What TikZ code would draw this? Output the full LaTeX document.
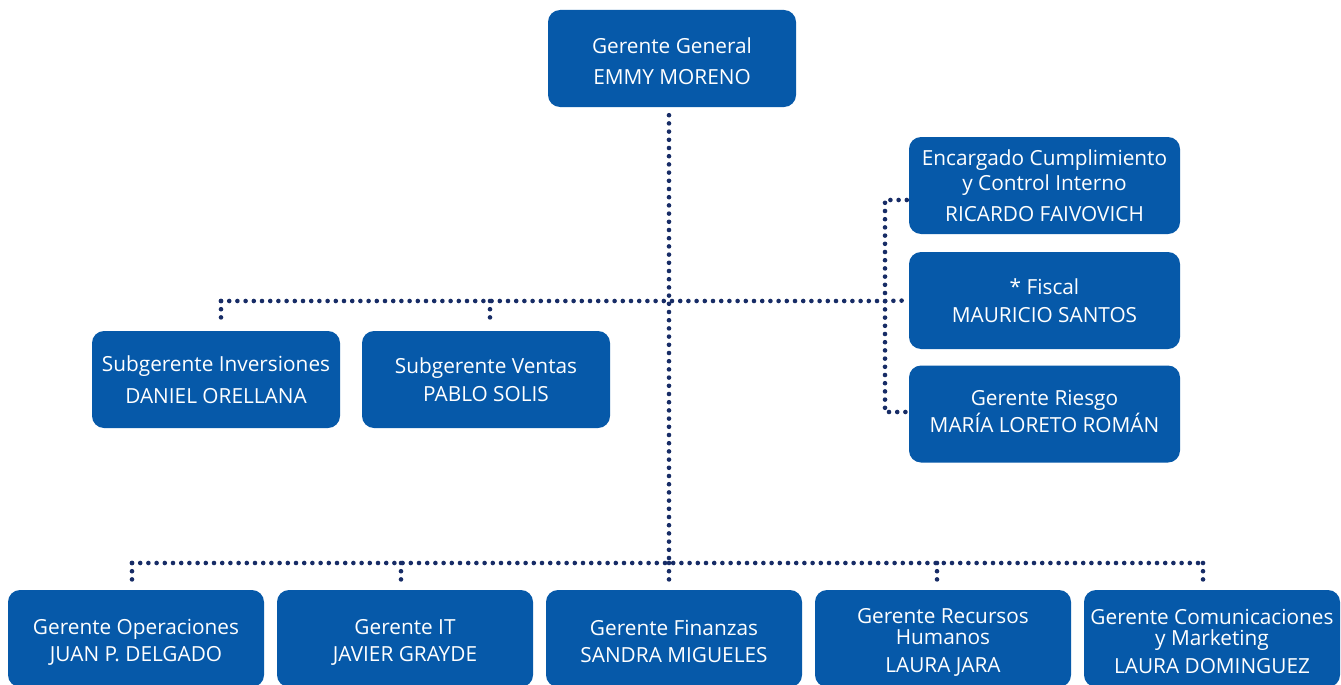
\documentclass[tikz,border=0pt]{standalone}
\usepackage{fontspec}
\setmainfont{Open Sans}
\definecolor{boxblue}{HTML}{0659A9}
\definecolor{dotblue}{HTML}{172C66}
\newcommand{\padtop}{\rule{0pt}{22pt}}
\newcommand{\padbot}{\rule[-6pt]{0pt}{6pt}}
\tikzset{
  orgbox/.style={fill=boxblue, rounded corners=12pt, text=white, minimum width=248pt,
    minimum height=97pt, align=center, inner sep=0pt, font=\fontsize{20.8}{25}\selectfont},
  widebox/.style={orgbox, minimum width=271pt},
  botbox/.style={orgbox, minimum width=256pt},
  dotline/.style={draw=dotblue, line width=4.6pt, line cap=round, dash pattern=on 0pt off 8.2pt}
}
\begin{document}
\begin{tikzpicture}[x=1pt,y=-1pt]
\clip (0,0) rectangle (1341,685);
\useasboundingbox (0,0) rectangle (1341,685);
\fill[white] (0,0) rectangle (1341,685);
% boxes
\node[orgbox] (gg) at (672,58.5) {\padtop Gerente General\\[6pt]EMMY MORENO};
\node[widebox] (enc) at (1044.5,185.5) {Encargado Cumplimiento\\y Control Interno\\[6pt]RICARDO FAIVOVICH};
\node[widebox] (fis) at (1044.5,300.5) {* Fiscal\\[3pt]MAURICIO SANTOS};
\node[widebox] (rie) at (1044.5,414) {Gerente Riesgo\\[2pt]MARÍA LORETO ROMÁN\padbot};
\node[orgbox] (subI) at (216,379.5) {Subgerente Inversiones\\[7pt]DANIEL ORELLANA};
\node[orgbox] (subV) at (486,379.5) {Subgerente Ventas\\[3pt]PABLO SOLIS};
\node[botbox] (op) at (136,638.5) {\padtop Gerente Operaciones\\[2pt]JUAN P. DELGADO};
\node[botbox] (it) at (405,638.5) {\padtop Gerente IT\\[2pt]JAVIER GRAYDE};
\node[botbox] (fin) at (674,638.5) {\padtop Gerente Finanzas\\[2pt]SANDRA MIGUELES};
\node[botbox] (rh) at (943,638.5) {\padtop Gerente Recursos\\[-4pt]Humanos\\[3pt]LAURA JARA};
\node[botbox] (com) at (1212,638.5) {\padtop Gerente Comunicaciones\\[-4pt]y Marketing\\[3pt]LAURA DOMINGUEZ};
% junction coordinates
\coordinate (hL) at (221,301);
\coordinate (hV) at (490,301);
\coordinate (rT) at (885,200);
\coordinate (rM) at (885,301);
\coordinate (rB) at (885,412);
\coordinate (b0) at (669,563);
\coordinate (bL) at (132,563);
\coordinate (b2) at (401,563);
\coordinate (b4) at (937,563);
\coordinate (bR) at (1203,563);
% connectors
\draw[dotline] ([yshift=-8pt]gg.south -| b0) -- (b0);
\draw[dotline] (hL) -- (rM) -- ([xshift=-3pt]fis.west);
\draw[dotline] (hL) -- ([yshift=9pt]subI.north -| hL);
\draw[dotline] (hV) -- ([yshift=9pt]subV.north -| hV);
\draw[dotline] ([xshift=-2pt]enc.west |- rT) -- (rT) -- (rB) -- ([xshift=-2pt]rie.west |- rB);
\draw[dotline] (bL) -- (bR);
\draw[dotline] (bL) -- ([yshift=8pt]op.north -| bL);
\draw[dotline] (b2) -- ([yshift=8pt]it.north -| b2);
\draw[dotline] (b0) -- ([yshift=8pt]fin.north -| b0);
\draw[dotline] (b4) -- ([yshift=8pt]rh.north -| b4);
\draw[dotline] (bR) -- ([yshift=8pt]com.north -| bR);
\end{tikzpicture}
\end{document}
